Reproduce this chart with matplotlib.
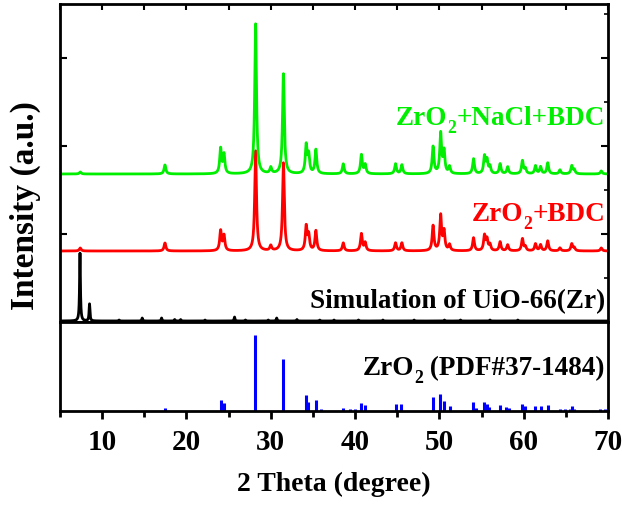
import numpy as np
import matplotlib
matplotlib.use('Agg')
import matplotlib.pyplot as plt
from matplotlib.ticker import MultipleLocator
from matplotlib.transforms import IdentityTransform

plt.rcParams['font.family'] = 'Liberation Serif'
plt.rcParams['font.weight'] = 'bold'

# peak positions (2 theta) and heights
green_pos = [7.4, 17.45, 24.05, 24.45, 28.2, 30.0, 31.5, 34.2, 34.5, 35.35, 38.6, 40.75, 41.2,
             44.8, 45.55, 49.25, 50.15, 50.55, 51.2, 54.05, 55.35, 55.65, 56.0, 57.2, 58.1,
             59.85, 60.2, 61.4, 62.0, 62.85, 64.3, 65.7, 66.0, 69.2]
green_int = [2, 9, 25, 19, 150, 6, 100, 28, 18, 24, 10, 19, 9,
             10, 9, 27, 40, 22, 7, 15, 17, 13, 7, 10, 7,
             13, 5, 8, 7, 11, 4, 8, 4, 3]

red_pos = green_pos
red_int = [3, 8, 20, 15, 100, 5, 88, 24, 15, 20, 8, 17, 8,
           8, 8, 25, 35, 19, 6, 13, 15, 11, 6, 9, 6,
           12, 4, 7, 6, 10, 3, 7, 3, 3]

sim_pos = [7.37, 8.5, 12.0, 14.75, 17.05, 18.6, 19.3, 22.2, 25.7, 27.0, 29.7, 30.7, 33.1,
           35.8, 37.5, 40.4, 43.3, 47.0, 50.6, 52.5, 56.0, 59.3]
sim_int = [68, 17, 1, 3, 3, 1.5, 1.5, 1, 4, 1, 1, 3, 1.5,
           1, 1, 1, 1, 1, 1, 1, 1, 1]

pdf_pos = [17.4, 24.05, 24.45, 28.17, 31.47, 34.16, 34.45, 35.31, 35.9, 38.6, 39.4, 40.0,
           40.7, 41.2, 44.8, 45.5, 49.25, 50.1, 50.55, 51.2, 54.0, 54.3, 55.35, 55.6, 55.9,
           57.15, 57.9, 58.3, 59.8, 60.1, 61.35, 62.0, 62.85, 64.3, 64.9, 65.5, 65.75, 66.0,
           69.1, 69.6]
pdf_int = [4, 14, 10, 100, 68, 21, 12, 14, 3, 4, 2, 2,
           11, 8, 9, 9, 18, 22, 13, 7, 12, 4, 12, 9, 5,
           8, 5, 4, 9, 6, 6, 6, 8, 3, 2, 3, 6, 3,
           2, 2]

# stacking offsets of the traces
green_off = 148
red_off = 71
sim_off = 1

green = '#00ee00'
red = '#ff0000'


def pattern(x, pos, inten, fwhm):
    y = np.zeros_like(x)
    hw = fwhm / 2.0
    for p, h in zip(pos, inten):
        y += h / (1 + ((x - p) / hw) ** 2)
    return y


def label(a, xa, ya, parts, color, size=19.5):
    # right aligned label, pieces marked True are drawn as subscripts
    renderer = fig.canvas.get_renderer()
    x, y = a.transAxes.transform((xa, ya))
    px = size * fig.dpi / 72
    for s, sub in reversed(parts):
        fs = size * 0.65 if sub else size
        dy = -0.3 * px if sub else 0
        t = fig.text(x, y + dy, s, transform=IdentityTransform(), ha='right',
                     va='baseline', color=color, fontsize=fs, fontweight='bold')
        x -= t.get_window_extent(renderer).width


tt = np.linspace(5, 70, 6000)

fig = plt.figure(figsize=(6.22, 5.06), dpi=100)
ax = fig.add_axes([60 / 622, 1 - 323 / 506, 548 / 622, 318 / 506])
ax2 = fig.add_axes([60 / 622, 1 - 412 / 506, 548 / 622, 89 / 506], sharex=ax)

ax.plot(tt, pattern(tt, sim_pos, sim_int, 0.12) + sim_off, color='black', lw=2)
ax.plot(tt, pattern(tt, red_pos, red_int, 0.25) + red_off, color=red, lw=2)
ax.plot(tt, pattern(tt, green_pos, green_int, 0.25) + green_off, color=green, lw=2)

ax2.vlines(pdf_pos, 0, pdf_int, color='#0000ff', lw=2.2)

ax.set_xlim(5, 70)
ax.set_ylim(0, 318)
ax2.set_ylim(0, 117)

for a in (ax, ax2):
    for s in a.spines.values():
        s.set_linewidth(2)

ax.yaxis.set_major_locator(MultipleLocator(88))
ax.yaxis.set_minor_locator(MultipleLocator(44))
ax.xaxis.set_major_locator(MultipleLocator(10))
ax.xaxis.set_minor_locator(MultipleLocator(5))
ax.tick_params(axis='x', which='both', direction='in', top=True, bottom=False,
               labelbottom=False, length=4, width=1.5)
ax.tick_params(axis='y', which='major', direction='in', left=True, right=True,
               labelleft=False, length=5, width=1.5)
ax.tick_params(axis='y', which='minor', direction='in', left=False, right=True,
               length=3, width=1.2)

ax2.set_yticks([])
ax2.tick_params(axis='x', which='major', direction='out', length=6, width=2,
                labelsize=21, pad=6)
ax2.tick_params(axis='x', which='minor', direction='out', length=4, width=2)
ax2.set_xticks([10, 20, 30, 40, 50, 60, 70])

ax2.set_xlabel('2 Theta (degree)', fontsize=20, fontweight='bold', labelpad=12)
fig.text(25 / 622, 1 - 206 / 506, 'Intensity (a.u.)', rotation=90, fontsize=24,
         fontweight='bold', ha='center', va='center')

label(ax, 0.9945, 0.623, [('ZrO', False), ('2', True), ('+NaCl+BDC', False)], green)
label(ax, 0.9945, 0.321, [('ZrO', False), ('2', True), ('+BDC', False)], red)
label(ax, 0.9945, 0.047, [('Simulation of UiO-66(Zr)', False)], 'black')
label(ax2, 0.9945, 0.416, [('ZrO', False), ('2', True), (' (PDF#37-1484)', False)], 'black')

fig.savefig('out.png', dpi=100)
